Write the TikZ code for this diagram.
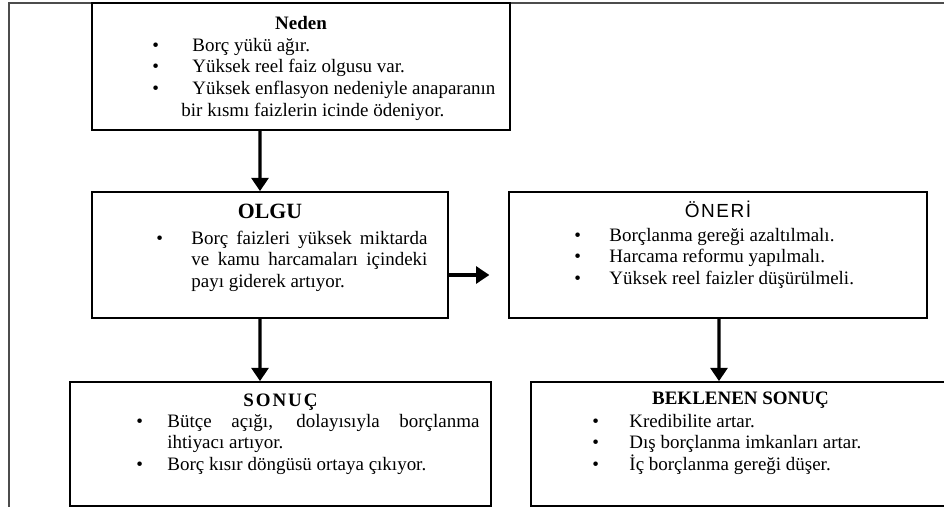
\documentclass[tikz,border=0pt]{standalone}
\usepackage{fontspec}
\setmainfont{Liberation Serif}
\newfontfamily\arialfont{Liberation Sans}
\usetikzlibrary{arrows.meta,positioning}

\newlength{\girinti}
\newcommand{\madde}[2][\girinti]{\noindent\hangindent=#1\hangafter=1\makebox[\girinti][l]{\textbullet}#2\par}

\begin{document}
\begin{tikzpicture}[
    kutu/.style={draw, line width=1.2pt, inner sep=0pt},
    baslik/.style={anchor=base, inner sep=0pt, font=\fontsize{13.5}{15.4}\selectfont\bfseries},
    liste/.style={anchor=base west, inner sep=0pt, align=justify, font=\fontsize{13.5}{15.4}\selectfont},
    ok/.style={line width=2.2pt, -{Triangle[length=3.3mm,width=4.2mm]}}
]
    \useasboundingbox (0,0) rectangle (23.6,-12.675);
    \clip (0,0) rectangle (23.6,-12.675);

    % frame
    \draw[line width=1pt, black!70] (0.225,-0.075) rectangle (25,-13.5);

    % Neden
    \node[kutu, minimum width=10.45cm, minimum height=3.175cm] (neden) at (7.525,-1.6625) {};
    \node[baslik] (nedenb) at ([yshift=-0.675cm]neden.north) {Neden};
    \node[liste, text width=9cm] (nedenl) at ([xshift=1.525cm, yshift=-1.225cm]neden.north west) {\girinti=1cm
        \madde{Borç yükü ağır.}
        \madde{Yüksek reel faiz olgusu var.}
        \madde[0.725cm]{Yüksek enflasyon nedeniyle anaparanın\newline bir kısmı faizlerin icinde ödeniyor.}};

    % Olgu
    \node[kutu, minimum width=8.9cm, minimum height=3.15cm] (olgu) at (6.75,-6.375) {};
    \node[baslik, font=\fontsize{15.5}{17}\selectfont\bfseries] (olgub) at ([yshift=-0.675cm]olgu.north) {OLGU};
    \node[liste, text width=6.775cm] (olgul) at ([xshift=1.625cm, yshift=-1.325cm]olgu.north west) {\girinti=0.875cm
        \madde{Borç faizleri yüksek miktarda\linebreak ve kamu harcamaları içindeki\linebreak payı giderek artıyor.}};

    % Oneri
    \node[kutu, minimum width=10.45cm, minimum height=3.15cm] (oneri) at (17.95,-6.375) {};
    \node[baslik, font=\fontsize{13.5}{15.4}\selectfont\arialfont\addfontfeatures{LetterSpace=8}] (onerib) at ([yshift=-0.65cm]oneri.north) {ÖNERİ};
    \node[liste, text width=8cm] (oneril) at ([xshift=1.65cm, yshift=-1.25cm]oneri.north west) {\girinti=0.875cm
        \madde{Borçlanma gereği azaltılmalı.}
        \madde{Harcama reformu yapılmalı.}
        \madde{Yüksek reel faizler düşürülmeli.}};

    % Sonuc
    \node[kutu, minimum width=10.525cm, minimum height=3.1cm] (sonuc) at (7.0125,-11.1) {};
    \node[baslik, font=\fontsize{13.5}{15.4}\selectfont\bfseries\addfontfeatures{LetterSpace=10}] (sonucb) at ([yshift=-0.625cm]sonuc.north) {SONUÇ};
    \node[liste, text width=8.575cm] (sonucl) at ([xshift=1.675cm, yshift=-1.15cm]sonuc.north west) {\girinti=0.775cm
        \madde{Bütçe açığı, dolayısıyla borçlanma\linebreak ihtiyacı artıyor.}
        \madde{Borç kısır döngüsü ortaya çıkıyor.}};

    % Beklenen sonuc
    \node[kutu, minimum width=10.475cm, minimum height=3.1cm] (beklenen) at (18.5125,-11.1) {};
    \node[baslik] (beklenenb) at ([yshift=-0.575cm]beklenen.north) {BEKLENEN SONUÇ};
    \node[liste, text width=8cm] (beklenenl) at ([xshift=1.55cm, yshift=-1.15cm]beklenen.north west) {\girinti=0.925cm
        \madde{Kredibilite artar.}
        \madde{Dış borçlanma imkanları artar.}
        \madde{İç borçlanma gereği düşer.}};

    % Arrows
    \draw[ok] ([xshift=-10.25mm]neden.south) -- ([xshift=-2.5mm]olgu.north);
    \draw[ok] ([xshift=-2.5mm]olgu.south) -- ([xshift=-5.125mm]sonuc.north);
    \draw[ok, shorten >=4.7mm] ([yshift=-5mm]olgu.east) -- ([yshift=-5mm]oneri.west);
    \draw[ok] ([xshift=0.25mm]oneri.south) -- ([xshift=-5.375mm]beklenen.north);
\end{tikzpicture}
\end{document}
